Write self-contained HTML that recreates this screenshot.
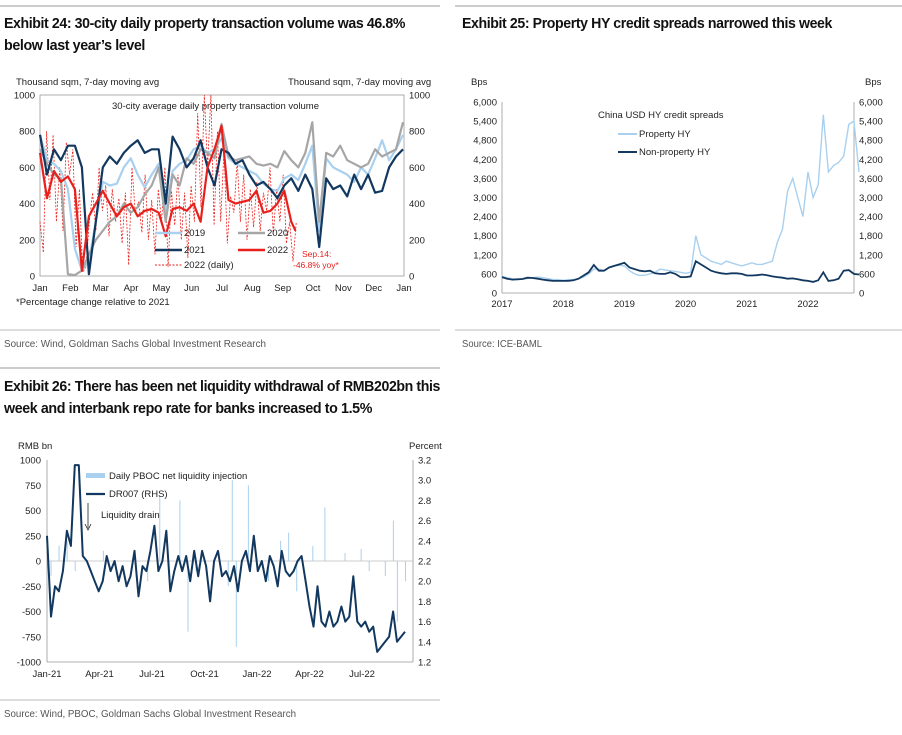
<!DOCTYPE html>
<html><head><meta charset="utf-8"><style>
body{margin:0;background:#fff;}
svg text{font-family:"Liberation Sans",Arial,sans-serif;}
.t{font-size:14.5px;font-weight:bold;fill:#111;letter-spacing:-0.4px}
.s{font-size:10px;fill:#555}
.a{font-size:9.5px;fill:#222}
</style></head><body>
<svg id="root" width="902" height="730" viewBox="0 0 902 730">
<line x1="0" y1="6" x2="440" y2="6" stroke="#999"/>
<line x1="455" y1="6" x2="902" y2="6" stroke="#999"/>
<text class="t" x="4" y="28" textLength="401" lengthAdjust="spacingAndGlyphs">Exhibit 24: 30-city daily property transaction volume was 46.8%</text>
<text class="t" x="4" y="50" textLength="141" lengthAdjust="spacingAndGlyphs">below last year’s level</text>
<text class="t" x="462" y="28" textLength="370" lengthAdjust="spacingAndGlyphs">Exhibit 25: Property HY credit spreads narrowed this week</text>
<line x1="0" y1="330" x2="440" y2="330" stroke="#bbb"/>
<line x1="455" y1="330" x2="902" y2="330" stroke="#bbb"/>
<text class="s" x="4" y="347" textLength="262" lengthAdjust="spacingAndGlyphs">Source: Wind, Goldman Sachs Global Investment Research</text>
<text class="s" x="462" y="347" textLength="80" lengthAdjust="spacingAndGlyphs">Source: ICE-BAML</text>
<line x1="0" y1="368" x2="440" y2="368" stroke="#999"/>
<text class="t" x="4" y="391" textLength="436" lengthAdjust="spacingAndGlyphs">Exhibit 26: There has been net liquidity withdrawal of RMB202bn this</text>
<text class="t" x="4" y="413" textLength="368" lengthAdjust="spacingAndGlyphs">week and interbank repo rate for banks increased to 1.5%</text>
<line x1="0" y1="700" x2="440" y2="700" stroke="#bbb"/>
<text class="s" x="4" y="717" textLength="292" lengthAdjust="spacingAndGlyphs">Source: Wind, PBOC, Goldman Sachs Global Investment Research</text>
<g id="c1"></g>
<g id="c2"></g>
<g id="c3"></g>
</svg>
<script>
// ---- Chart 1 data (weekly, thousand sqm) ----
const c1Months=["Jan","Feb","Mar","Apr","May","Jun","Jul","Aug","Sep","Oct","Nov","Dec","Jan"];
const c1Ticks=[0,200,400,600,800,1000];
const s2019=[780,640,620,580,480,150,30,80,300,520,500,510,600,650,560,490,560,620,350,580,620,640,700,720,680,700,760,650,620,600,580,560,510,480,470,540,560,530,620,720,250,650,600,580,560,520,600,560,650,750,640,700,780];
const s2020=[700,620,560,540,10,5,30,120,200,250,300,330,400,350,380,450,500,600,300,560,500,650,620,700,680,650,840,660,640,650,660,620,610,620,600,690,640,600,680,850,300,680,660,720,640,620,600,620,700,660,680,700,850];
const s2021=[780,560,700,640,720,720,600,10,300,600,660,620,680,720,750,680,700,700,400,770,700,600,650,750,600,500,700,680,620,640,560,500,520,480,430,500,540,470,560,480,160,540,480,500,440,560,480,560,460,470,600,660,700];
const s2022=[680,430,580,520,550,480,30,330,400,470,400,330,380,400,330,360,370,350,220,370,380,360,400,300,600,700,830,420,400,410,420,470,350,360,400,470,300,250];
const s2022daily=[300,130,800,420,780,300,600,250,740,560,700,160,480,20,50,300,460,250,600,360,500,220,480,300,430,180,460,60,600,350,410,240,560,200,420,120,480,300,600,50,470,280,560,200,460,100,500,300,900,380,1000,600,1000,280,800,300,700,180,440,350,640,300,560,200,480,270,520,250,460,360,600,230,480,300,560,180,300,80,300];
// ---- Chart 2 data (monthly, bps, Jan-2017 onward) ----
const c2Years=["2017","2018","2019","2020","2021","2022"];
const c2Ticks=[0,600,1200,1800,2400,3000,3600,4200,4800,5400,6000];
const propHY=[520,480,450,430,440,460,480,500,480,450,420,420,400,420,420,450,500,600,750,750,700,800,850,870,850,700,600,550,560,600,650,750,720,700,680,650,620,650,1800,1200,1100,1000,950,900,1000,950,900,850,900,950,900,900,950,1000,1600,2000,3200,3600,3000,2400,3800,3000,3400,5600,3800,4000,4100,4300,5300,5400,3800];
const nonPropHY=[500,450,420,430,440,480,470,450,420,400,380,380,380,380,400,450,550,650,880,700,700,800,850,900,950,800,750,700,680,700,620,600,600,650,600,500,500,520,1000,900,800,700,650,620,600,620,620,600,550,550,560,580,560,520,500,480,450,460,430,400,380,350,400,650,380,400,450,700,720,600,580];
// ---- Chart 3 data ----
const c3Labels=["Jan-21","Apr-21","Jul-21","Oct-21","Jan-22","Apr-22","Jul-22"];
const c3LeftTicks=[-1000,-750,-500,-250,0,250,500,750,1000];
const c3RightTicks=[1.2,1.4,1.6,1.8,2.0,2.2,2.4,2.6,2.8,3.0,3.2];
const dr007=[2.45,1.65,1.95,1.9,2.1,2.5,2.35,3.15,3.15,2.25,2.2,2.1,2.0,1.9,2.0,2.25,2.1,2.2,2.0,2.15,1.95,2.05,2.3,1.85,2.15,2.1,2.3,2.55,2.1,2.2,2.5,1.9,2.1,2.25,2.1,2.25,2.0,2.3,2.05,2.3,2.15,1.8,2.2,2.3,2.05,2.1,2.0,2.15,1.9,2.2,2.3,2.1,2.45,2.1,2.2,2.0,2.25,2.15,1.95,2.3,2.1,2.05,2.1,2.2,2.25,2.0,1.75,1.55,1.95,1.6,1.55,1.7,1.55,1.6,1.75,1.6,1.65,2.05,1.6,1.55,1.6,1.5,1.55,1.3,1.35,1.4,1.45,1.7,1.4,1.45,1.5];
const injWeek=[1,3,5,7,14,25,28,33,35,37,45,46,47,50,55,58,60,62,66,69,74,78,80,84,86,87,89];
const injValue=[-150,150,200,-100,100,-200,650,600,-700,-100,-250,800,-850,750,-200,200,280,-300,150,530,80,120,-100,-150,400,-600,-200];

const NS='http://www.w3.org/2000/svg';
function mk(parent,tag,attrs,text){const e=document.createElementNS(NS,tag);for(const k in attrs)e.setAttribute(k,attrs[k]);if(text!==undefined)e.textContent=text;parent.appendChild(e);return e;}
function pathD(xs,ys){return xs.map((x,i)=>(i?'L':'M')+x.toFixed(1)+','+ys[i].toFixed(1)).join('');}

// ===== Chart 1 =====
(function(){
const g=document.getElementById('c1');
const L=40,R=404,T=95,B=276;
const y=v=>B-(v/1000)*(B-T);
const xw=w=>L+(w/52.14)*(R-L);
let e;
e=mk(g,'rect',{x:L,y:T,width:R-L,height:B-T,fill:'none',stroke:'#999','stroke-width':0.8});

c1Ticks.forEach(v=>{
 e=mk(g,'text',{x:L-5,y:y(v)+3.5,'text-anchor':'end',class:'a'},String(v));
 
 e=mk(g,'text',{x:R+5,y:y(v)+3.5,class:'a'},String(v));
 
});
c1Months.forEach((m,i)=>{
 e=mk(g,'text',{x:L+i*(R-L)/12,y:291,'text-anchor':'middle',class:'a'},m);
 
});
e=mk(g,'text',{x:16,y:85,class:'a'},'Thousand sqm, 7-day moving avg');

e=mk(g,'text',{x:288,y:85,class:'a'},'Thousand sqm, 7-day moving avg');

e=mk(g,'text',{x:112,y:109,class:'a'},'30-city average daily property transaction volume');

const dx=s2022daily.map((v,i)=>L+i*(257/365*(R-L))/(s2022daily.length-1));
e=mk(g,'path',{d:pathD(dx,s2022daily.map(y)),fill:'none',stroke:'#e8201c','stroke-width':0.8,'stroke-dasharray':'2,1.5'});

const ser=[[s2019,'#a9d0ee','series-2019'],[s2020,'#a6a6a6','series-2020'],[s2021,'#12385f','series-2021'],[s2022,'#e8201c','series-2022']];
ser.forEach(([s,c,n])=>{
 const xs=s.map((v,i)=>xw(i<37||n!=='series-2022'?i:36.6));
 e=mk(g,'path',{d:pathD(xs,s.map(y)),fill:'none',stroke:c,'stroke-width':2.2,'stroke-linejoin':'round'});
 
});
const leg=[['2019','#a9d0ee',155,236,0],['2020','#a6a6a6',238,236,0],['2021','#12385f',155,253,0],['2022','#e8201c',238,253,0],['2022 (daily)','#e8201c',155,268,1]];
leg.forEach(([t,c,lx,ly,d])=>{
 e=mk(g,'line',{x1:lx,y1:ly-3,x2:lx+27,y2:ly-3,stroke:c,'stroke-width':d?0.9:2.5,'stroke-dasharray':d?'2,1.5':'none'});
 
 e=mk(g,'text',{x:lx+29,y:ly,class:'a'},t);
 
});
e=mk(g,'text',{x:302,y:257,class:'a',style:'fill:#e8201c;font-size:8.5px'},'Sep.14:');

e=mk(g,'text',{x:293,y:268,class:'a',style:'fill:#e8201c;font-size:8.5px'},'-46.8% yoy*');

e=mk(g,'text',{x:16,y:305,class:'a'},'*Percentage change relative to 2021');

})();

// ===== Chart 2 =====
(function(){
const g=document.getElementById('c2');
const L=502,R=854,T=102,B=293,yr=61.2;
const y=v=>B-(v/6000)*(B-T);
const xm=m=>L+m/12*yr;
let e;
e=mk(g,'line',{x1:L,y1:T,x2:L,y2:B,stroke:'#999','stroke-width':0.8});

e=mk(g,'line',{x1:R,y1:T,x2:R,y2:B,stroke:'#999','stroke-width':0.8});

e=mk(g,'line',{x1:L,y1:B,x2:R,y2:B,stroke:'#999','stroke-width':0.8});

c2Ticks.forEach(v=>{
 const t=v.toLocaleString('en-US');
 e=mk(g,'text',{x:L-5,y:y(v)+3.5,'text-anchor':'end',class:'a'},t);
 
 e=mk(g,'text',{x:R+5,y:y(v)+3.5,class:'a'},t);
 
});
c2Years.forEach((t,i)=>{
 e=mk(g,'text',{x:L+i*yr,y:307,'text-anchor':'middle',class:'a'},t);
 
});
e=mk(g,'text',{x:471,y:85,class:'a'},'Bps');

e=mk(g,'text',{x:865,y:85,class:'a'},'Bps');

e=mk(g,'path',{d:pathD(propHY.map((v,i)=>xm(i)),propHY.map(y)),fill:'none',stroke:'#a9d0ee','stroke-width':1.4});

e=mk(g,'path',{d:pathD(nonPropHY.map((v,i)=>xm(i)),nonPropHY.map(y)),fill:'none',stroke:'#12385f','stroke-width':1.8});

e=mk(g,'text',{x:598,y:118,class:'a'},'China USD HY credit spreads');

[['Property HY','#a9d0ee',137],['Non-property HY','#12385f',155]].forEach(([t,c,ly])=>{
 e=mk(g,'line',{x1:618,y1:ly-3,x2:637,y2:ly-3,stroke:c,'stroke-width':2});
 
 e=mk(g,'text',{x:639,y:ly,class:'a'},t);
 
});
})();

// ===== Chart 3 =====
(function(){
const g=document.getElementById('c3');
const L=47,R=413,T=460,B=662,q=52.5;
const yl=v=>T+(1000-v)/2000*(B-T);
const yr=v=>T+(3.2-v)/2.0*(B-T);
const xw=w=>L+w*(4*q/52.14);
let e;
e=mk(g,'line',{x1:L,y1:T,x2:L,y2:B,stroke:'#999','stroke-width':0.8});

e=mk(g,'line',{x1:R,y1:T,x2:R,y2:B,stroke:'#999','stroke-width':0.8});

e=mk(g,'line',{x1:L,y1:B,x2:R,y2:B,stroke:'#999','stroke-width':0.8});

e=mk(g,'line',{x1:L,y1:yl(0),x2:R,y2:yl(0),stroke:'#bbb','stroke-width':0.8});

c3LeftTicks.forEach(v=>{
 e=mk(g,'text',{x:L-6,y:yl(v)+3.5,'text-anchor':'end',class:'a'},String(v));
 
});
c3RightTicks.forEach(v=>{
 e=mk(g,'text',{x:R+5,y:yr(v)+3.5,class:'a'},v.toFixed(1));
 
});
c3Labels.forEach((t,i)=>{
 e=mk(g,'text',{x:L+i*q,y:677,'text-anchor':'middle',class:'a'},t);
 
});
e=mk(g,'text',{x:18,y:449,class:'a'},'RMB bn');

e=mk(g,'text',{x:409,y:449,class:'a'},'Percent');

injWeek.forEach((w,i)=>{
 const v=injValue[i];
 e=mk(g,'rect',{x:xw(w)-0.5,y:Math.min(yl(v),yl(0)),width:1,height:Math.abs(yl(v)-yl(0)),fill:'#a9d0ee'});
 
});
const n=dr007.length;
e=mk(g,'path',{d:pathD(dr007.map((v,i)=>L+i*(405-L)/(n-1)),dr007.map(yr)),fill:'none',stroke:'#12385f','stroke-width':2,'stroke-linejoin':'round'});

e=mk(g,'rect',{x:86,y:473,width:19,height:5,fill:'#a9d0ee'});

e=mk(g,'text',{x:109,y:479,class:'a'},'Daily PBOC net liquidity injection');

e=mk(g,'line',{x1:86,y1:494,x2:105,y2:494,stroke:'#12385f','stroke-width':2.2});

e=mk(g,'text',{x:109,y:497,class:'a'},'DR007 (RHS)');

e=mk(g,'text',{x:101,y:518,class:'a'},'Liquidity drain');

e=mk(g,'line',{x1:88,y1:503,x2:88,y2:528,stroke:'#222','stroke-width':0.8});

e=mk(g,'path',{d:'M85,524 L88,530 L91,524',fill:'none',stroke:'#222','stroke-width':0.8});

})();
</script>
</body></html>
